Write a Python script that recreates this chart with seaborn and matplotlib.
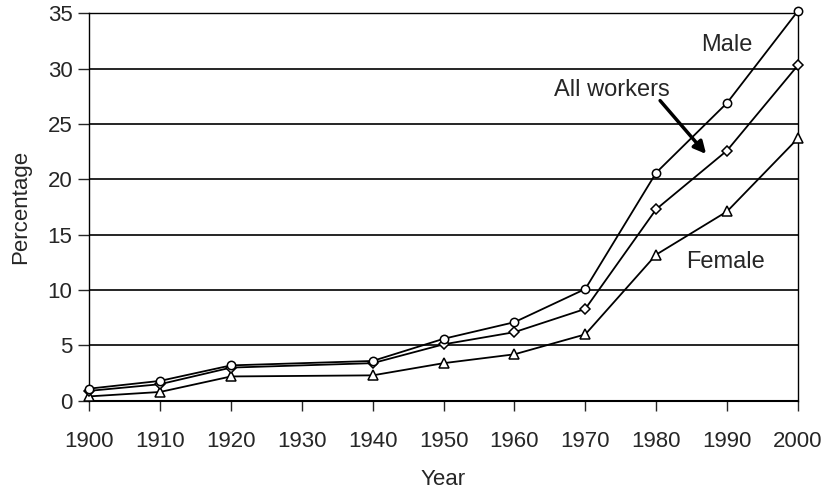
import pandas as pd
import matplotlib.pyplot as plt
import seaborn as sns

years = [1900, 1910, 1920, 1940, 1950, 1960, 1970, 1980, 1990, 2000]
male = [1.1, 1.8, 3.2, 3.6, 5.6, 7.1, 10.1, 20.6, 26.9, 35.2]
all_workers = [0.9, 1.5, 3.0, 3.4, 5.1, 6.2, 8.3, 17.3, 22.6, 30.3]
female = [0.4, 0.8, 2.2, 2.3, 3.4, 4.2, 6.0, 13.2, 17.1, 23.7]

sns.set_style("white")
plt.rcParams['font.family'] = ['Liberation Sans', 'DejaVu Sans']

df = pd.DataFrame({'Year': years, 'Male': male,
                   'All workers': all_workers, 'Female': female})

fig = plt.figure(figsize=(8.26, 4.9), dpi=100)
ax = fig.add_axes([0.108, 0.182, 0.858, 0.791])

for col, mk, ms in [('Female', '^', 7), ('All workers', 'D', 5), ('Male', 'o', 6)]:
    sns.lineplot(data=df, x='Year', y=col, ax=ax, color='black', lw=1.3,
                 marker=mk, ms=ms, mfc='white', mec='black', mew=1.1,
                 clip_on=False, zorder=3)

ax.set_xlim(1900, 2000)
ax.set_ylim(0, 35)
ax.set_xticks(range(1900, 2001, 10))
ax.set_yticks(range(0, 36, 5))
ax.yaxis.grid(True, color='black', lw=1.2)
ax.xaxis.grid(False)
for s in ax.spines.values():
    s.set_color('black')
    s.set_linewidth(1.0)
ax.spines['bottom'].set_linewidth(1.5)
ax.tick_params(axis='x', direction='out', length=7, width=1, labelsize=16, pad=15, bottom=True)
ax.tick_params(axis='y', direction='out', length=8, width=1, labelsize=16, pad=4, left=True)
ax.set_xlabel('Year', fontsize=16, labelpad=12)
ax.set_ylabel('Percentage', fontsize=16, labelpad=12)

ax.text(1990.0, 32.1, 'Male', fontsize=17, ha='center', va='center')
ax.text(1973.8, 28.1, 'All workers', fontsize=17, ha='center', va='center')
ax.text(1989.8, 12.5, 'Female', fontsize=17, ha='center', va='center')
ax.annotate('', xy=(1987.3, 22.1), xytext=(1980.3, 27.3),
            arrowprops=dict(arrowstyle='-|>', color='black', lw=2.5,
                            mutation_scale=18))

fig.savefig('out.png', dpi=100)
